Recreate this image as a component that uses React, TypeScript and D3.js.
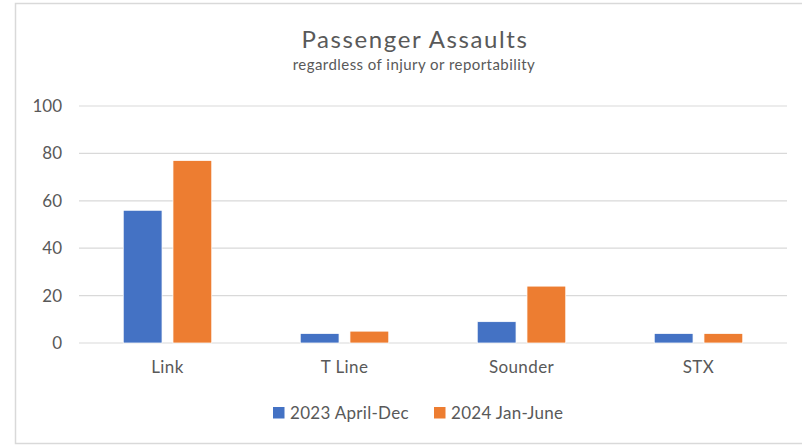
import React, { useRef, useEffect } from "react";
import * as d3 from "d3";

const categories = ["Link", "T Line", "Sounder", "STX"];
const seriesNames = ["2023 April-Dec", "2024 Jan-June"];
const series2023 = [56, 4, 9, 4];
const series2024 = [77, 5, 24, 4];
const yTicks = [0, 20, 40, 60, 80, 100];

const colors = ["#4472C4", "#ED7D31"];
const textColor = "#595959";
const font = "Lato, 'Open Sans', sans-serif";

function App() {
  const svgRef = useRef<SVGSVGElement>(null);

  useEffect(() => {
    const svg = d3.select(svgRef.current);
    svg.selectAll("*").remove();

    const left = 79;
    const right = 787;
    const top = 106;
    const bottom = 343;

    // chart frame
    svg
      .append("rect")
      .attr("x", 15.5)
      .attr("y", 3.5)
      .attr("width", 800)
      .attr("height", 440)
      .attr("fill", "white")
      .attr("stroke", "#D9D9D9")
      .attr("stroke-width", 1.5);

    svg
      .append("text")
      .attr("x", 415)
      .attr("y", 48)
      .attr("text-anchor", "middle")
      .attr("font-family", font)
      .attr("font-size", 24)
      .attr("fill", textColor)
      .attr("letter-spacing", 1.6)
      .text("Passenger Assaults");

    svg
      .append("text")
      .attr("x", 414)
      .attr("y", 70)
      .attr("text-anchor", "middle")
      .attr("font-family", font)
      .attr("font-size", 15)
      .attr("letter-spacing", 0.45)
      .attr("fill", textColor)
      .text("regardless of injury or reportability");

    const x0 = d3
      .scaleBand()
      .domain(categories)
      .range([left, right])
      .paddingInner(0.5)
      .paddingOuter(0.25);
    const x1 = d3
      .scaleBand()
      .domain(seriesNames)
      .range([0, x0.bandwidth()])
      .paddingInner(0.22);
    const y = d3.scaleLinear().domain([0, 100]).range([bottom, top]);

    // gridlines
    svg
      .append("g")
      .selectAll("line")
      .data(yTicks)
      .join("line")
      .attr("x1", left)
      .attr("x2", right)
      .attr("y1", (d) => y(d))
      .attr("y2", (d) => y(d))
      .attr("stroke", "#D9D9D9")
      .attr("stroke-width", 1.2);

    const yAxis = d3.axisLeft(y).tickValues(yTicks).tickSize(0).tickPadding(17);
    const gy = svg
      .append("g")
      .attr("transform", `translate(${left},0)`)
      .call(yAxis);
    gy.select(".domain").remove();
    gy.selectAll("text")
      .attr("font-family", font)
      .attr("font-size", 17)
      .attr("fill", textColor);

    const rows = categories.map((c, i) => ({
      cat: c,
      values: [series2023[i], series2024[i]],
    }));

    svg
      .append("g")
      .selectAll("g")
      .data(rows)
      .join("g")
      .attr("transform", (d) => `translate(${x0(d.cat)},0)`)
      .selectAll("rect")
      .data((d) => d.values.map((v, j) => ({ name: seriesNames[j], v, j })))
      .join("rect")
      .attr("x", (d) => x1(d.name)!)
      .attr("y", (d) => y(d.v))
      .attr("width", x1.bandwidth())
      .attr("height", (d) => bottom - y(d.v))
      .attr("fill", (d) => colors[d.j])
      .attr("stroke", "white")
      .attr("stroke-width", 0.75);

    const xAxis = d3.axisBottom(x0).tickSize(0).tickPadding(18);
    const gx = svg
      .append("g")
      .attr("transform", `translate(0,${bottom})`)
      .call(xAxis);
    gx.select(".domain").remove();
    gx.selectAll("text")
      .attr("font-family", font)
      .attr("font-size", 17)
      .attr("letter-spacing", 0.4)
      .attr("fill", textColor);

    // legend
    const legendX = [273, 434];
    const legend = svg
      .append("g")
      .selectAll("g")
      .data(seriesNames)
      .join("g")
      .attr("transform", (d, i) => `translate(${legendX[i]},407)`);
    legend
      .append("rect")
      .attr("width", 11.5)
      .attr("height", 11.5)
      .attr("fill", (d, i) => colors[i]);
    legend
      .append("text")
      .attr("x", 17)
      .attr("y", 11.5)
      .attr("font-family", font)
      .attr("font-size", 17)
      .attr("letter-spacing", 0.3)
      .attr("fill", textColor)
      .text((d) => d);
  }, []);

  return (
    <svg
      ref={svgRef}
      width={802}
      height={445}
      style={{ position: "absolute", left: 0, top: 0, display: "block" }}
    />
  );
}

export default App;
